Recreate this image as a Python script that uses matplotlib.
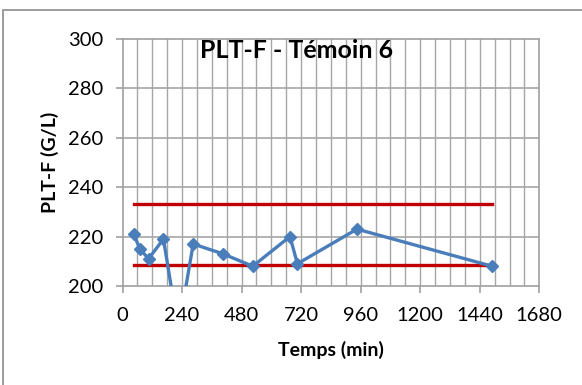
import matplotlib
matplotlib.use("Agg")
import matplotlib.pyplot as plt
from matplotlib.patches import Rectangle

# Platelet count over time
temps_min = [45, 70, 105, 165, 225, 285, 405, 525, 675, 705, 945, 1490]
plt_f = [221, 215, 211, 219, 182, 217, 213, 208, 220, 209, 223, 208]

# Reference limits
limite_haute = 233.3
limite_basse = 208.4

x_ticks = [0, 240, 480, 720, 960, 1200, 1440, 1680]
y_ticks = [200, 220, 240, 260, 280, 300]

plt.rcParams['font.family'] = ['Lato', 'DejaVu Sans']

fig = plt.figure(figsize=(5.82, 3.85), dpi=100)
fig.patch.set_facecolor('white')

# outer chart frame
fig.patches.append(Rectangle((3 / 582, -0.05), 1.2, 1 - 10 / 385 + 0.05,
                             transform=fig.transFigure, fill=False,
                             edgecolor='#8c8c8c', linewidth=1.2, zorder=0))

ax = fig.add_axes([0.2105, 0.2571, 0.7161, 0.6424])
ax.set_xlim(0, 1680)
ax.set_ylim(200, 300)

# grid: vertical every 60 min, horizontal every 20
for xv in range(60, 1680, 60):
    ax.axvline(xv, color='#a6a6a6', linewidth=1.0, zorder=1)
for yv in y_ticks[1:-1]:
    ax.axhline(yv, color='#a6a6a6', linewidth=1.2, zorder=1)

for side in ['top', 'right', 'left', 'bottom']:
    ax.spines[side].set_color('#a0a0a0')
    ax.spines[side].set_linewidth(1.2)

ax.set_xticks(x_ticks)
ax.set_yticks(y_ticks)
ax.tick_params(axis='both', direction='out', length=5, width=1.2,
               color='#a0a0a0', labelsize=14.5)
ax.tick_params(axis='x', pad=10)
ax.tick_params(axis='y', pad=9)

ax.plot([temps_min[0], temps_min[-1]], [limite_haute, limite_haute],
        color='#c00000', linewidth=2.4, zorder=3)
ax.plot([temps_min[0], temps_min[-1]], [limite_basse, limite_basse],
        color='#c00000', linewidth=2.4, zorder=3)

ax.plot(temps_min, plt_f, color='#4a7ebb', linewidth=2.4, marker='D',
        markersize=6.5, zorder=4)

ax.text(0.418, 0.997, 'PLT-F - Témoin 6', transform=ax.transAxes,
        ha='center', va='top', fontsize=18, fontweight='bold')

ax.set_xlabel('Temps (min)', fontsize=14, fontweight='bold', labelpad=12)
ax.set_ylabel('PLT-F (G/L)', fontsize=14, fontweight='bold', labelpad=6)

fig.savefig('out.png', dpi=100, facecolor='white')
